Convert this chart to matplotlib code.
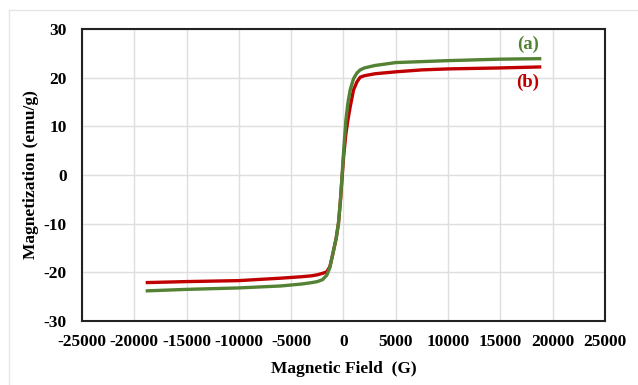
import matplotlib
matplotlib.use('Agg')
import matplotlib.pyplot as plt
from matplotlib.lines import Line2D

# Magnetic field (G)
field = [-18750, -15000, -10000, -6000, -4000, -3000, -2500, -2000, -1600, -1300,
         -1000, -700, -480, -300, -150, 0, 230, 420, 640, 960,
         1300, 1600, 2000, 3000, 5000, 7500, 10000, 15000, 18750]

# Magnetization (emu/g), sample (a)
mag_a = [-23.8, -23.5, -23.2, -22.8, -22.4, -22.1, -21.9, -21.5, -20.6, -19.0,
         -16.0, -13.0, -9.9, -5.3, -0.5, 4.5, 11.3, 14.8, 17.5, 19.8,
         21.0, 21.6, 22.0, 22.5, 23.1, 23.3, 23.5, 23.8, 23.9]

# Magnetization (emu/g), sample (b)
mag_b = [-22.1, -21.9, -21.7, -21.2, -20.9, -20.7, -20.5, -20.2, -19.9, -18.8,
         -16.0, -13.0, -9.9, -5.5, -1.0, 3.5, 8.5, 11.3, 14.0, 17.5,
         19.2, 20.1, 20.4, 20.8, 21.2, 21.6, 21.8, 22.0, 22.2]

xticks = list(range(-25000, 25001, 5000))
yticks = list(range(-30, 31, 10))

green = '#548235'
red = '#C00000'

plt.rcParams['font.family'] = 'Liberation Serif'
plt.rcParams['font.weight'] = 'bold'
plt.rcParams['axes.unicode_minus'] = False

fig = plt.figure(figsize=(6.38, 3.85), dpi=100)
ax = fig.add_axes([0.1285, 0.1662, 0.8198, 0.7585])

# faint outer frame of the original figure (only left and top edges visible)
x0, y0 = 9 / 638, 1 - 10 / 385
fig.add_artist(Line2D([x0, x0], [0, y0], transform=fig.transFigure,
                      color='#e6e6e6', linewidth=1))
fig.add_artist(Line2D([x0, 1], [y0, y0], transform=fig.transFigure,
                      color='#e6e6e6', linewidth=1))

ax.plot(field, mag_b, color=red, linewidth=2.4, zorder=3)
ax.plot(field, mag_a, color=green, linewidth=2.4, zorder=4)

ax.text(17600, 26.8, '(a)', color=green, fontsize=13.5, fontweight='bold',
        ha='center', va='center')
ax.text(17600, 19.0, '(b)', color=red, fontsize=13.5, fontweight='bold',
        ha='center', va='center')

ax.set_xlim(-25000, 25000)
ax.set_ylim(-30, 30)
ax.set_xticks(xticks)
ax.set_yticks(yticks)
ax.tick_params(length=0, labelsize=12.5)
ax.tick_params(axis='x', pad=9)
ax.tick_params(axis='y', pad=11)
for lab in ax.get_xticklabels() + ax.get_yticklabels():
    lab.set_fontweight('bold')

ax.grid(True, color='#dedede', linewidth=1)
ax.set_axisbelow(True)
for sp in ax.spines.values():
    sp.set_linewidth(1.5)
    sp.set_color('#222222')

ax.set_xlabel('Magnetic Field  (G)', fontsize=12.5, fontweight='bold', labelpad=8)
ax.set_ylabel('Magnetization (emu/g)', fontsize=12.5, fontweight='bold', labelpad=3)

fig.savefig('out.png', dpi=100)
